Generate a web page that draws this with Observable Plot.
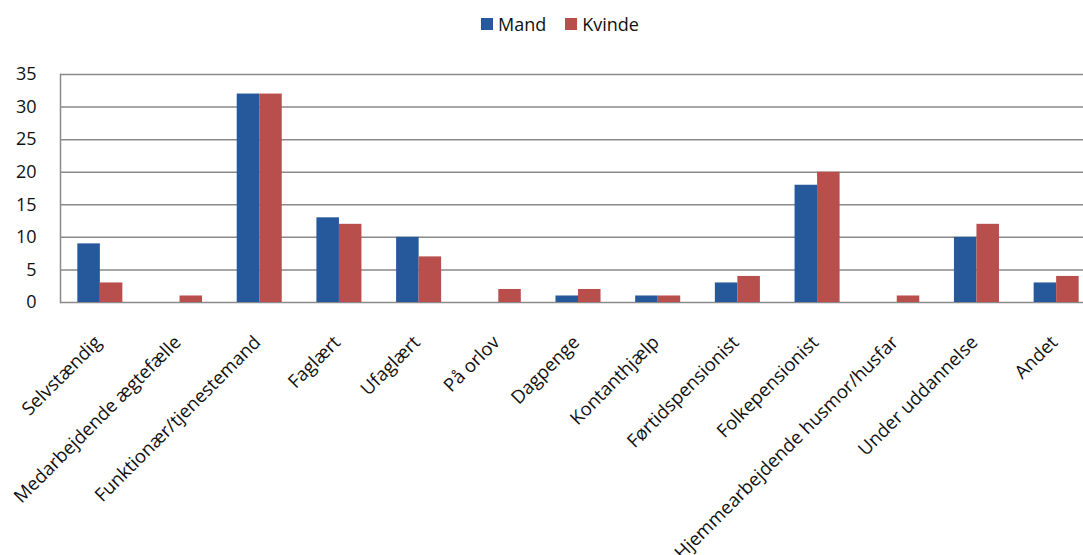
<!DOCTYPE html>
<html>
<head>
<meta charset="utf-8">
<script src="https://cdn.jsdelivr.net/npm/d3@7"></script>
<script src="https://cdn.jsdelivr.net/npm/@observablehq/plot@0.6"></script>
<style>
  html, body { margin: 0; padding: 0; background: #fff; }
  body { width: 1083px; height: 555px; overflow: hidden; font-family: "Open Sans", sans-serif; }
  #legend { height: 48px; display: flex; justify-content: center; align-items: flex-start; padding-left: 56px; box-sizing: border-box; font-size: 18px; color: #111; }
  #legend .item { display: flex; align-items: center; margin-top: 12px; margin-right: 19px; }
  #legend .sw { width: 12px; height: 12px; margin-right: 5px; }
</style>
</head>
<body>
<div id="legend"></div>
<div id="chart"></div>
<script>
const categories = ["Selvstændig", "Medarbejdende ægtefælle", "Funktionær/tjenestemand", "Faglært", "Ufaglært", "På orlov", "Dagpenge", "Kontanthjælp", "Førtidspensionist", "Folkepensionist", "Hjemmearbejdende husmor/husfar", "Under uddannelse", "Andet"];
const mand   = [9, 0, 32, 13, 10, 0, 1, 1, 3, 18, 0, 10, 3];
const kvinde = [3, 1, 32, 12, 7, 2, 2, 1, 4, 20, 1, 12, 4];
const seriesNames = ["Mand", "Kvinde"];
const seriesColors = ["#26589C", "#B94F4C"];
const yTicks = [0, 5, 10, 15, 20, 25, 30, 35];

// legend
const legend = document.getElementById("legend");
seriesNames.forEach((n, i) => {
  const it = document.createElement("div");
  it.className = "item";
  it.innerHTML = `<div class="sw" style="background:${seriesColors[i]}"></div><span>${n}</span>`;
  legend.appendChild(it);
});

const rowsM = categories.map((c, i) => ({cat: c, v: mand[i]}));
const rowsK = categories.map((c, i) => ({cat: c, v: kvinde[i]}));
const grid = "#8a8a8a";

const chart = Plot.plot({
  width: 1083,
  height: 507,
  marginTop: 26,
  marginBottom: 253,
  marginLeft: 60,
  marginRight: 0,
  style: {fontFamily: "'Open Sans', sans-serif", fontSize: "18px", color: "#111", background: "#fff", overflow: "visible"},
  x: {type: "band", domain: categories, range: [60, 1096], paddingInner: 0.435, paddingOuter: 0.2175, round: false, axis: null},
  y: {domain: [0, 35], axis: null},
  marks: [
    Plot.ruleY(yTicks, {stroke: grid, strokeWidth: 1.5}),
    Plot.frame({anchor: "left", stroke: grid, strokeWidth: 1.5}),
    Plot.barY(rowsM, {x: "cat", y: "v", fill: seriesColors[0], insetRight: 22.5, insetLeft: 0}),
    Plot.barY(rowsK, {x: "cat", y: "v", fill: seriesColors[1], insetLeft: 22.5, insetRight: 0}),
    Plot.axisY({ticks: yTicks, tickSize: 0, tickPadding: 24, fontSize: 18, fill: "#111", label: null}),
    Plot.text(categories, {x: d => d, y: 0, text: d => d, rotate: -45, textAnchor: "end", lineAnchor: "bottom", dx: 2, dy: 41, fontSize: 18.5, fill: "#111"})
  ]
});
document.getElementById("chart").appendChild(chart);
</script>
</body>
</html>
